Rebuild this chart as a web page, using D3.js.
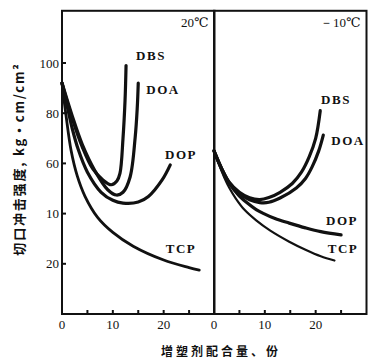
<!DOCTYPE html>
<html>
<head>
<meta charset="utf-8">
<script src="https://cdn.jsdelivr.net/npm/d3@7"></script>
<style>
  body { margin: 0; background: #fff; }
  svg text { fill: #111; }
</style>
</head>
<body>
<div id="chart"></div>
<script>
// curves: [plasticizer parts, impact strength]
const dbs20 = [[0, 92], [2, 78], [4, 66.5], [6, 58], [8, 53.5], [9.7, 51.5], [10.8, 53], [11.4, 56], [12, 70], [12.4, 85], [12.6, 99]];
const doa20 = [[0, 92], [2, 79], [4, 67.5], [6.5, 57], [9, 49.5], [10.7, 47.4], [12, 48.5], [13.4, 54.6], [14.4, 70.5], [14.8, 82], [15, 92]];
const dop20 = [[0, 92], [1, 83], [2, 74], [3.2, 65.5], [5, 56.5], [7.7, 48.5], [10, 45.3], [12, 44.2], [15, 44.6], [17, 46.8], [19.7, 53.4], [21.3, 59.4]];
const tcp20 = [[0, 92], [0.8, 79], [1.8, 65], [3, 55], [4.5, 47], [7, 38.5], [10, 32.5], [14, 27], [20, 21.5], [25, 18.5], [27, 17.5]];

const dbsM10 = [[0, 65], [1.5, 58], [3, 52.5], [5, 48.5], [7, 46.3], [9, 45.6], [10.8, 46.4], [13, 48.5], [15.4, 52], [17.2, 56.5], [18.7, 62.5], [20, 70], [20.9, 81]];
const doaM10 = [[0, 65], [1.5, 58], [3, 52.3], [5, 48], [7, 45.5], [9, 44.4], [10.8, 44.5], [13, 46.2], [16.2, 50.2], [18, 54], [19.3, 58.6], [20.6, 65], [21.5, 71.3]];
const dopM10 = [[0, 65], [1, 60], [2, 55.5], [3, 52], [4, 49.3], [5, 47], [6.5, 44.3], [8.3, 41.6], [10, 39.8], [12, 38], [14.8, 36.2], [18, 34.3], [21, 32.8], [25, 31.5]];
const tcpM10 = [[0, 65], [1, 59.5], [2, 54.5], [3, 50.3], [4.3, 46], [6, 41.5], [8.3, 37.3], [11, 33.3], [14.8, 28.8], [18, 25.6], [21, 23], [23.7, 21.3]];

const yTickValues = [20, 40, 60, 80, 100];
const yTickLabels = ["20", "10", "60", "80", "100"];   // as printed in the figure
const xTickValues = [0, 5, 10, 15, 20, 25];
const xTickLabels = [0, 10, 20];

const panels = [
  { temp: "20℃", series: [
      { name: "DBS", data: dbs20, w: 3.2, lx: 151, ly: 55 },
      { name: "DOA", data: doa20, w: 3.2, lx: 163, ly: 89 },
      { name: "DOP", data: dop20, w: 3.2, lx: 181, ly: 154 },
      { name: "TCP", data: tcp20, w: 2.8, lx: 181, ly: 248 } ] },
  { temp: "－10℃", series: [
      { name: "DBS", data: dbsM10, w: 3.2, lx: 336, ly: 99 },
      { name: "DOA", data: doaM10, w: 3.2, lx: 348, ly: 140 },
      { name: "DOP", data: dopM10, w: 3.2, lx: 342, ly: 220 },
      { name: "TCP", data: tcpM10, w: 2.2, lx: 343, ly: 248 } ] }
];

const width = 379, height = 362;
const svg = d3.select("#chart").append("svg")
  .attr("width", width)
  .attr("height", height);

const y = d3.scaleLinear().domain([0, 100]).range([314, 63]);
const yTop = y(120.8);

const panelLeft = [62, 214];
const panelWidth = 152.5;

const serif = "'Liberation Serif', 'DejaVu Serif', serif";

panels.forEach((p, i) => {
  const x = d3.scaleLinear().domain([0, 30]).range([panelLeft[i], panelLeft[i] + panelWidth]);
  const g = svg.append("g");

  // frame
  g.append("rect")
    .attr("x", x(0)).attr("y", yTop)
    .attr("width", x(30) - x(0)).attr("height", y(0) - yTop)
    .attr("fill", "none").attr("stroke", "#111").attr("stroke-width", 2);

  // x ticks (pointing inward)
  g.selectAll(".xt").data(xTickValues.filter(d => d > 0)).enter().append("line")
    .attr("x1", d => x(d)).attr("x2", d => x(d))
    .attr("y1", y(0)).attr("y2", y(0) - 4)
    .attr("stroke", "#111").attr("stroke-width", 2);

  g.selectAll(".xl").data(xTickLabels).enter().append("text")
    .attr("x", d => x(d)).attr("y", y(0) + 15)
    .attr("text-anchor", "middle")
    .style("font-family", serif).style("font-size", "13px")
    .text(d => d);

  const line = d3.line()
    .x(d => x(d[0])).y(d => y(d[1]))
    .curve(d3.curveCatmullRom.alpha(0.5));

  g.selectAll(".curve").data(p.series).enter().append("path")
    .attr("d", d => line(d.data))
    .attr("fill", "none").attr("stroke", "#111")
    .attr("stroke-width", d => d.w)
    .attr("stroke-linecap", "round");

  g.selectAll(".lab").data(p.series).enter().append("text")
    .attr("x", d => d.lx).attr("y", d => d.ly + 5)
    .attr("text-anchor", "middle")
    .style("font-family", serif).style("font-size", "13px")
    .style("font-weight", "bold").style("letter-spacing", "1.5px")
    .text(d => d.name);

  g.append("text")
    .attr("x", x(30) - 6).attr("y", 27)
    .attr("text-anchor", "end")
    .style("font-family", serif).style("font-size", "13px")
    .text(p.temp);
});

// y ticks on the left panel
svg.selectAll(".yt").data(yTickValues).enter().append("line")
  .attr("x1", panelLeft[0]).attr("x2", panelLeft[0] + 4)
  .attr("y1", d => y(d)).attr("y2", d => y(d))
  .attr("stroke", "#111").attr("stroke-width", 2);

svg.selectAll(".yl").data(yTickValues).enter().append("text")
  .attr("x", panelLeft[0] - 3).attr("y", d => y(d) + 4.5)
  .attr("text-anchor", "end")
  .style("font-family", serif).style("font-size", "13px")
  .text((d, i) => yTickLabels[i]);

// axis titles
svg.append("text")
  .attr("transform", "translate(24,159) rotate(-90)")
  .attr("text-anchor", "middle")
  .style("font-family", "'Noto Sans CJK SC', sans-serif")
  .style("font-size", "13px").style("font-weight", "bold")
  .style("letter-spacing", "1.8px")
  .text("切口冲击强度, kg·cm/cm²");

svg.append("text")
  .attr("x", 221).attr("y", 356)
  .attr("text-anchor", "middle")
  .style("font-family", "'Noto Sans CJK SC', sans-serif")
  .style("font-size", "12px").style("font-weight", "bold")
  .style("letter-spacing", "3px")
  .text("增塑剂配合量、份");
</script>
</body>
</html>
